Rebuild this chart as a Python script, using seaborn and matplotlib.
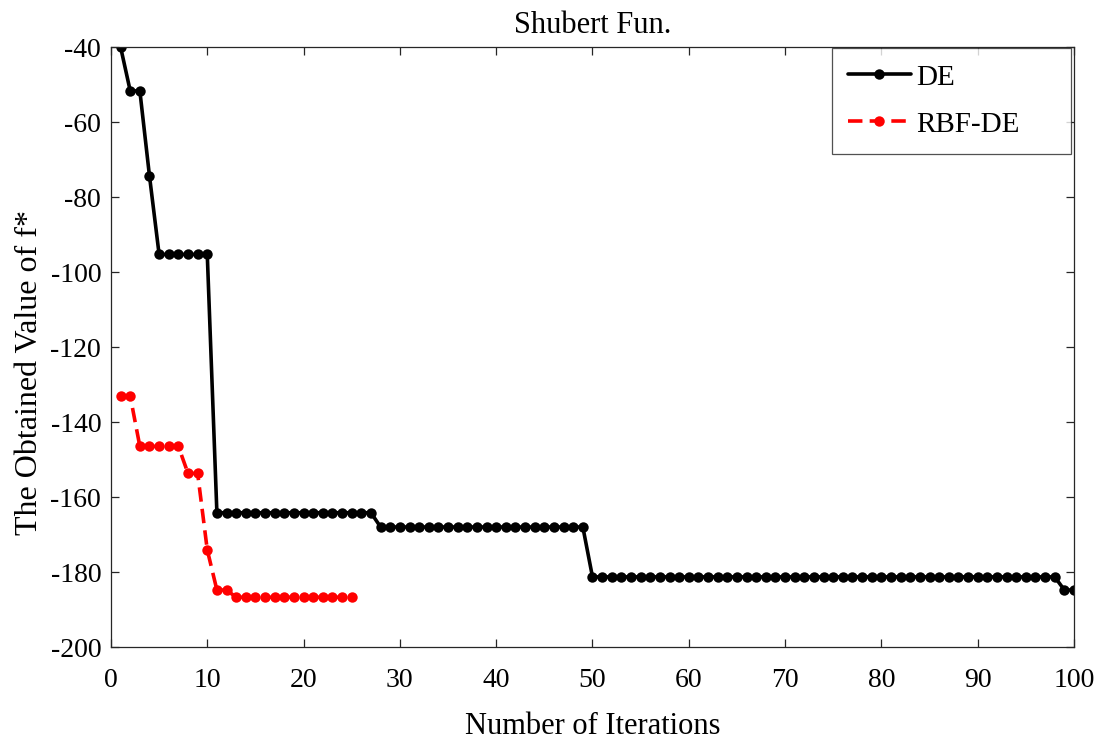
import numpy as np
import pandas as pd
import matplotlib
matplotlib.use("Agg")
import matplotlib.pyplot as plt
import seaborn as sns

# Best objective value found per iteration on the Shubert function
de_iter = list(range(1, 101))
de_values = ([-40.0, -51.7, -51.7, -74.4]
             + [-95.3] * 6          # iterations 5-10
             + [-164.2] * 17        # iterations 11-27
             + [-168.0] * 22        # iterations 28-49
             + [-181.3] * 49        # iterations 50-98
             + [-184.8] * 2)        # iterations 99-100

rbf_iter = list(range(1, 26))
rbf_values = ([-133.1, -133.1]
              + [-146.5] * 5        # iterations 3-7
              + [-153.7] * 2        # iterations 8-9
              + [-174.1]
              + [-184.8] * 2        # iterations 11-12
              + [-186.73] * 13)     # iterations 13-25

x_ticks = list(range(0, 101, 10))
y_ticks = list(range(-200, -39, 20))

df_de = pd.DataFrame({"Iteration": de_iter, "Value": de_values})
df_rbf = pd.DataFrame({"Iteration": rbf_iter, "Value": rbf_values})

sns.set_style("ticks")
plt.rcParams["font.family"] = ["Liberation Serif", "DejaVu Serif"]
plt.rcParams["text.color"] = "black"
plt.rcParams["axes.labelcolor"] = "black"

fig = plt.figure(figsize=(11.03, 7.43), dpi=100)
ax = fig.add_axes([0.1006, 0.1292, 0.8731, 0.8075])

sns.lineplot(data=df_de, x="Iteration", y="Value", ax=ax, color="black",
             linewidth=2.6, marker="o", markersize=7.5, markeredgewidth=0,
             label="DE")
sns.lineplot(data=df_rbf, x="Iteration", y="Value", ax=ax, color="#ff0000",
             linewidth=2.6, linestyle=(0, (4, 2)), marker="o", markersize=7.5,
             markeredgewidth=0, label="RBF-DE")

ax.set_xlim(0, 100)
ax.set_ylim(-200, -40)
ax.set_xticks(x_ticks)
ax.set_yticks(y_ticks)
ax.set_xticklabels([str(t) for t in x_ticks])
ax.set_yticklabels([str(t) for t in y_ticks])

axis_color = "#262626"
for sp in ax.spines.values():
    sp.set_color(axis_color)
    sp.set_linewidth(0.9)
ax.tick_params(direction="in", top=True, right=True, length=6, width=0.9,
               colors=axis_color, labelcolor="black", labelsize=20)
ax.tick_params(axis="x", pad=15)
ax.tick_params(axis="y", pad=7)

ax.set_title("Shubert Fun.", fontsize=22, pad=10, color="black")
ax.set_xlabel("Number of Iterations", fontsize=22, labelpad=14)
ax.set_ylabel("The Obtained Value of f*", fontsize=23)
ax.yaxis.set_label_coords(-0.070, 0.458)

leg = ax.legend(loc="upper left", bbox_to_anchor=(0.7487, 0.828, 0.248, 0.17),
                mode="expand", fontsize=21, frameon=True, fancybox=False,
                edgecolor=axis_color, handlelength=2.15, handletextpad=0.2,
                borderpad=0.55, labelspacing=0.7, borderaxespad=0.0)
leg.get_frame().set_linewidth(0.9)
for t in leg.get_texts():
    t.set_color("black")

fig.savefig("out.png", dpi=100, facecolor="white")
